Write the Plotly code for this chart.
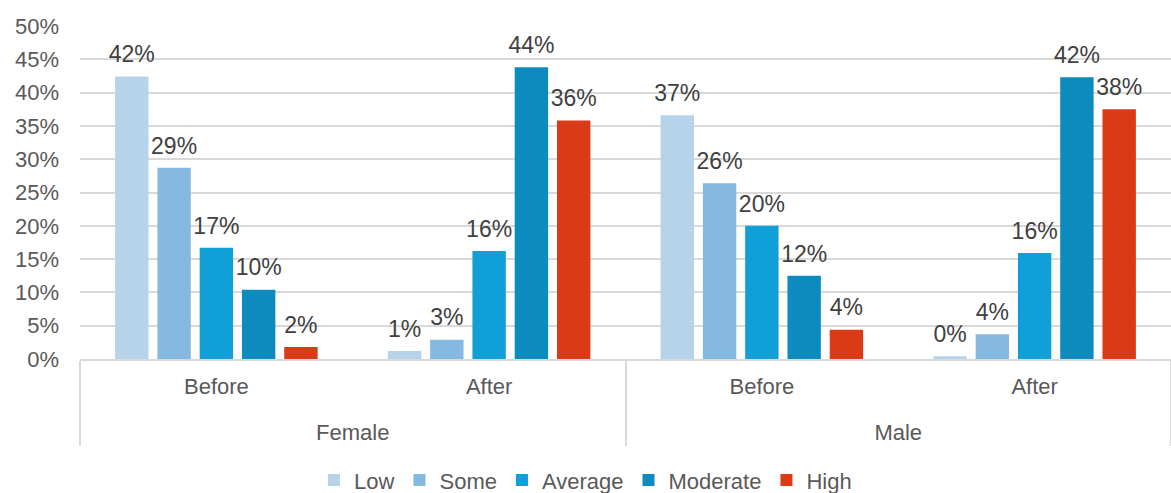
import plotly.graph_objects as go

# Outer / inner category levels of the x axis
gender = ["Female", "Female", "Male", "Male"]
period = ["Before", "After", "Before", "After"]

levels = ["Low", "Some", "Average", "Moderate", "High"]

# Share of respondents per level (fractions)
low = [0.424, 0.012, 0.366, 0.004]
some = [0.287, 0.029, 0.264, 0.037]
average = [0.167, 0.162, 0.200, 0.159]
moderate = [0.104, 0.438, 0.125, 0.423]
high = [0.018, 0.358, 0.044, 0.375]

series = [low, some, average, moderate, high]
colors = ["#B5D3EA", "#85B9DF", "#109FD7", "#0E8BBE", "#DA3A16"]

FONT = "Liberation Sans, Arial, sans-serif"
BARGAP = 0.225

# Inner labels get a tall blank on both sides so the outer row sits lower
PAD = "<span style='font-size:45px'> </span>"
period_labels = [PAD + p + PAD for p in period]

fig = go.Figure()

for name, vals, col in zip(levels, series, colors):
    fig.add_trace(go.Bar(
        x=[gender, period_labels], y=vals, name=name,
        marker=dict(color=col, line=dict(width=0)),
        offsetgroup=name, alignmentgroup="a",
    ))

# Value labels sit a little above each bar, aligned with the bar groups
for name, vals in zip(levels, series):
    fig.add_trace(go.Scatter(
        x=[gender, period_labels], y=vals, mode="markers+text",
        text=[f"{v:.0%}" for v in vals], textposition="top center",
        textfont=dict(family=FONT, size=23, color="#404040"),
        marker=dict(size=12, opacity=0),
        offsetgroup=name, alignmentgroup="a",
        showlegend=False, hoverinfo="skip", cliponaxis=False,
    ))

fig.update_layout(
    width=1171, height=493,
    margin=dict(l=80, r=0, t=26, b=133.5),
    paper_bgcolor="white", plot_bgcolor="white",
    barmode="group", bargap=BARGAP, bargroupgap=0.21,
    scattermode="group", scattergap=BARGAP,
    font=dict(family=FONT, size=22, color="#595959"),
    legend=dict(
        orientation="h", xref="container", x=0.5, xanchor="center",
        yref="container", y=0.026, yanchor="middle",
        font=dict(family=FONT, size=22, color="#595959"),
        itemwidth=30, tracegroupgap=0,
    ),
)

fig.update_yaxes(
    range=[0, 0.5], dtick=0.05, tickformat=".0%",
    showgrid=True, gridcolor="#D9D9D9", gridwidth=1.5,
    zeroline=False, showline=False, ticks="",
    ticklabelstandoff=20,
    tickfont=dict(family=FONT, size=22, color="#595959"),
)

fig.update_xaxes(
    type="multicategory",
    showline=True, linecolor="#D9D9D9", linewidth=2,
    showdividers=True, dividercolor="#D9D9D9", dividerwidth=2,
    ticks="", showgrid=False, ticklabelstandoff=7,
    tickfont=dict(family=FONT, size=22, color="#595959"),
)

fig.write_html("out.html")
